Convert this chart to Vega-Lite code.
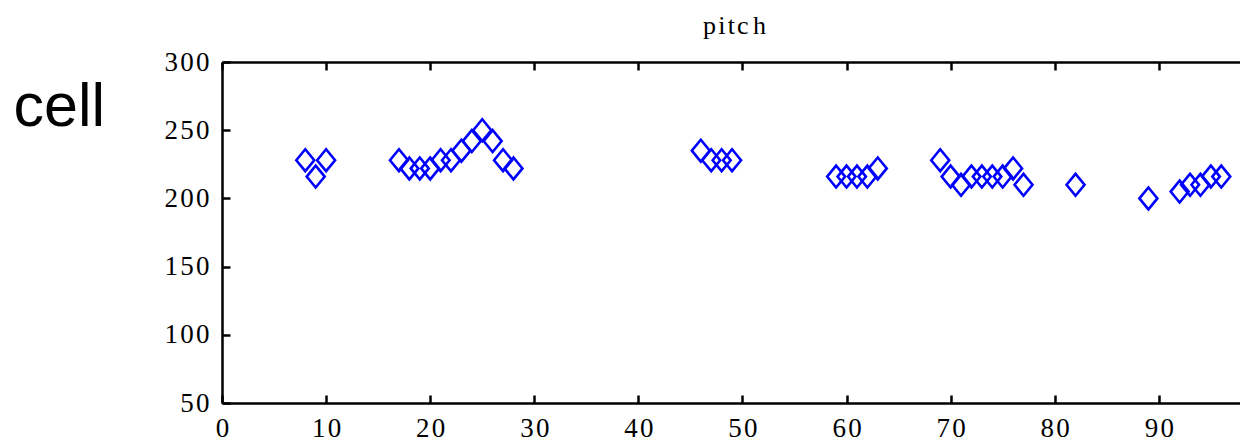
{
  "$schema": "https://vega.github.io/schema/vega-lite/v6.json",
  "autosize": {"type": "none"},
  "padding": {"left": 222, "top": 62, "right": 0, "bottom": 38},
  "width": 1018,
  "height": 341,
  "background": "white",
  "view": {"stroke": null},
  "data": {
    "values": [
      {"x": 8, "pitch": 228}, {"x": 9, "pitch": 216}, {"x": 10, "pitch": 228},
      {"x": 17, "pitch": 228}, {"x": 18, "pitch": 222}, {"x": 19, "pitch": 222},
      {"x": 20, "pitch": 222}, {"x": 21, "pitch": 228}, {"x": 22, "pitch": 228},
      {"x": 23, "pitch": 235}, {"x": 24, "pitch": 242}, {"x": 25, "pitch": 250},
      {"x": 26, "pitch": 242}, {"x": 27, "pitch": 228}, {"x": 28, "pitch": 222},
      {"x": 46, "pitch": 235}, {"x": 47, "pitch": 228}, {"x": 48, "pitch": 228},
      {"x": 49, "pitch": 228}, {"x": 59, "pitch": 216}, {"x": 60, "pitch": 216},
      {"x": 61, "pitch": 216}, {"x": 62, "pitch": 216}, {"x": 63, "pitch": 222},
      {"x": 69, "pitch": 228}, {"x": 70, "pitch": 216}, {"x": 71, "pitch": 210},
      {"x": 72, "pitch": 216}, {"x": 73, "pitch": 216}, {"x": 74, "pitch": 216},
      {"x": 75, "pitch": 216}, {"x": 76, "pitch": 222}, {"x": 77, "pitch": 210},
      {"x": 82, "pitch": 210}, {"x": 89, "pitch": 200}, {"x": 92, "pitch": 205},
      {"x": 93, "pitch": 210}, {"x": 94, "pitch": 210}, {"x": 95, "pitch": 216},
      {"x": 96, "pitch": 216}
    ]
  },
  "layer": [
    {
      "mark": {"type": "point", "opacity": 0},
      "encoding": {
        "x": {
          "field": "x", "type": "quantitative",
          "scale": {"domain": [0, 97.8], "nice": false, "zero": false},
          "axis": {
            "orient": "top", "labels": false, "grid": false,
            "values": [0, 10, 20, 30, 40, 50, 60, 70, 80, 90],
            "domainColor": "black", "domainWidth": 2.5,
            "tickColor": "black", "tickWidth": 2.5, "tickSize": -8,
            "title": "p\u200ai\u200at\u200ac\u200a\u200ah",
            "titleFont": "Liberation Serif",
            "titleFontSize": 26,
            "titleFontWeight": "normal",
            "titleColor": "black",
            "titleAlign": "center",
            "titleBaseline": "alphabetic",
            "titleAngle": 0,
            "titleX": 512,
            "titleY": -29
          }
        },
        "y": {
          "field": "pitch", "type": "quantitative",
          "scale": {"domain": [50, 300], "nice": false, "zero": false}
        }
      }
    },
    {
      "mark": {
        "type": "point",
        "shape": "M-0.82,0L0,-1L0.82,0L0,1Z",
        "filled": false,
        "stroke": "#0000ff",
        "strokeWidth": 2.6,
        "size": 480,
        "opacity": 1
      },
      "encoding": {
        "x": {
          "field": "x", "type": "quantitative",
          "scale": {"domain": [0, 97.8], "nice": false, "zero": false},
          "axis": {
            "orient": "bottom", "title": null, "grid": false,
            "values": [0, 10, 20, 30, 40, 50, 60, 70, 80, 90],
            "domainColor": "black", "domainWidth": 2.5,
            "tickColor": "black", "tickWidth": 2.5, "tickSize": -8,
            "labelFont": "Liberation Serif", "labelFontSize": 27,
            "labelExpr": "join(split(datum.label, ''), '\u200a')",
            "labelColor": "black", "labelPadding": 20, "labelFlush": false
          }
        },
        "y": {
          "field": "pitch", "type": "quantitative",
          "scale": {"domain": [50, 300], "nice": false, "zero": false},
          "axis": {
            "orient": "left", "grid": false,
            "values": [50, 100, 150, 200, 250, 300],
            "domainColor": "black", "domainWidth": 2.5,
            "tickColor": "black", "tickWidth": 2.5, "tickSize": -8,
            "labelFont": "Liberation Serif", "labelFontSize": 27,
            "labelExpr": "join(split(datum.label, ''), '\u200a')",
            "labelColor": "black", "labelPadding": 21, "labelFlush": false,
            "title": "cell",
            "titleAngle": 0,
            "titleFont": "Liberation Sans",
            "titleFontSize": 61,
            "titleFontWeight": "normal",
            "titleColor": "black",
            "titleAlign": "left",
            "titleBaseline": "alphabetic",
            "titleX": -209,
            "titleY": 63
          }
        }
      }
    }
  ],
  "resolve": {"axis": {"x": "independent"}}
}
